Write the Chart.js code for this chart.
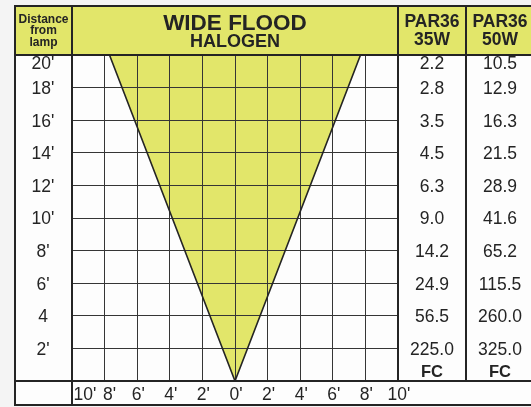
<!DOCTYPE html>
<html>
<head>
<meta charset="utf-8">
<script src="https://cdn.jsdelivr.net/npm/chart.js@4.4.1/dist/chart.umd.min.js"></script>
<style>
body{margin:0;background:#f4f4f4;}
#wrap{position:relative;width:531px;height:407px;}
#paper{position:absolute;left:15px;top:6px;width:516px;height:400px;background:#fdfdfd;}
#beamChart{position:absolute;left:0;top:0;}
</style>
</head>
<body>
<div id="wrap"><div id="paper"></div><canvas id="beamChart" width="531" height="407"></canvas></div>
<script>
// rows: distance from lamp (feet)
const distances = [20, 18, 16, 14, 12, 10, 8, 6, 4, 2];
const distanceLabels = ["20'", "18'", "16'", "14'", "12'", "10'", "8'", "6'", "4", "2'"];

// footcandles at each distance
const fc35w = [2.2, 2.8, 3.5, 4.5, 6.3, 9.0, 14.2, 24.9, 56.5, 225.0];
const fc50w = [10.5, 12.9, 16.3, 21.5, 28.9, 41.6, 65.2, 115.5, 260.0, 325.0];

// beam width, feet either side of center
const spreadTicks = [-10, -8, -6, -4, -2, 0, 2, 4, 6, 8, 10];
const spreadLabels = ["10'", "8'", "6'", "4'", "2'", "0'", "2'", "4'", "6'", "8'", "10'"];
const beamX = [-7.7, 0, 7.7];
const beamY = [20, 0, 20];

const YELLOW = '#e2e66a';
const INK = '#242424';
const FONT = '"Liberation Sans", Arial, Helvetica, sans-serif';

// table frame, header and text around the plot area
const tablePlugin = {
  id: 'table',
  afterDraw(chart) {
    const ctx = chart.ctx;
    const xs = chart.scales.x, ys = chart.scales.y;
    const a = chart.chartArea;
    const W = chart.width;
    const col1 = a.right, col2 = 466, left = 15, top = 6, bottom = 405;

    ctx.save();
    ctx.fillStyle = YELLOW;
    ctx.fillRect(left, top, W - left, a.top - top);

    ctx.strokeStyle = INK;
    ctx.lineWidth = 2;
    function line(x1, y1, x2, y2) {
      ctx.beginPath(); ctx.moveTo(x1, y1); ctx.lineTo(x2, y2); ctx.stroke();
    }
    line(left, top, W, top);
    line(left, a.top, W, a.top);
    line(left, a.bottom, W, a.bottom);
    line(left, bottom, W, bottom);
    line(left, top - 1, left, bottom + 1);
    line(a.left, top, a.left, bottom);
    line(col1, top, col1, a.bottom);
    line(col2, top, col2, a.bottom);

    ctx.fillStyle = INK;
    ctx.textAlign = 'center';
    ctx.textBaseline = 'middle';

    // header cells
    ctx.font = 'bold 12px ' + FONT;
    ctx.fillText('Distance', 43.5, 19.5);
    ctx.fillText('from', 43.5, 31);
    ctx.fillText('lamp', 43.5, 42.5);

    const mid = (a.left + a.right) / 2;
    ctx.font = 'bold 22.5px ' + FONT;
    ctx.fillText('WIDE FLOOD', mid, 23.5);
    ctx.font = 'bold 18px ' + FONT;
    ctx.fillText('HALOGEN', mid, 42.5);

    const c35 = (col1 + col2) / 2, c50 = 500;
    ctx.font = 'bold 17.5px ' + FONT;
    ctx.fillText('PAR36', c35, 22);
    ctx.fillText('35W', c35, 40);
    ctx.fillText('PAR36', c50, 22);
    ctx.fillText('50W', c50, 40);

    // rows
    ctx.font = '17.5px ' + FONT;
    distances.forEach((d, i) => {
      let py = ys.getPixelForValue(d) + 1.5;
      if (d === 20) py += 8;
      ctx.fillText(distanceLabels[i], 43, py);
      ctx.fillText(fc35w[i].toFixed(1), c35, py);
      ctx.fillText(fc50w[i].toFixed(1), c50, py);
    });

    ctx.font = 'bold 16.5px ' + FONT;
    ctx.fillText('FC', c35, 372.5);
    ctx.fillText('FC', c50, 372.5);

    // beam width scale along the bottom
    ctx.font = '17.5px ' + FONT;
    spreadTicks.forEach((t, i) => {
      let px = xs.getPixelForValue(t);
      if (i === 0) px += 12;
      if (i === 1) px += 4;
      ctx.fillText(spreadLabels[i], px + 1, 395);
    });
    ctx.restore();
  }
};

new Chart(document.getElementById('beamChart'), {
  type: 'line',
  data: {
    datasets: [{
      data: beamX.map((x, i) => ({ x: x, y: beamY[i] })),
      fill: 'end',
      backgroundColor: YELLOW,
      borderColor: INK,
      borderWidth: 1.6,
      pointRadius: 0,
      tension: 0
    }]
  },
  options: {
    responsive: false,
    animation: false,
    events: [],
    layout: { padding: { left: 72, right: 133, top: 55, bottom: 26 } },
    scales: {
      x: {
        type: 'linear', min: -10, max: 10,
        ticks: { stepSize: 2, display: false },
        grid: { color: '#353535', lineWidth: 1, drawTicks: false },
        border: { display: false }
      },
      y: {
        type: 'linear', min: 0, max: 20,
        ticks: { stepSize: 2, display: false },
        grid: { color: '#353535', lineWidth: 1, drawTicks: false },
        border: { display: false }
      }
    },
    plugins: {
      legend: { display: false },
      tooltip: { enabled: false },
      filler: { drawTime: 'beforeDraw' }
    }
  },
  plugins: [tablePlugin]
});
</script>
</body>
</html>
